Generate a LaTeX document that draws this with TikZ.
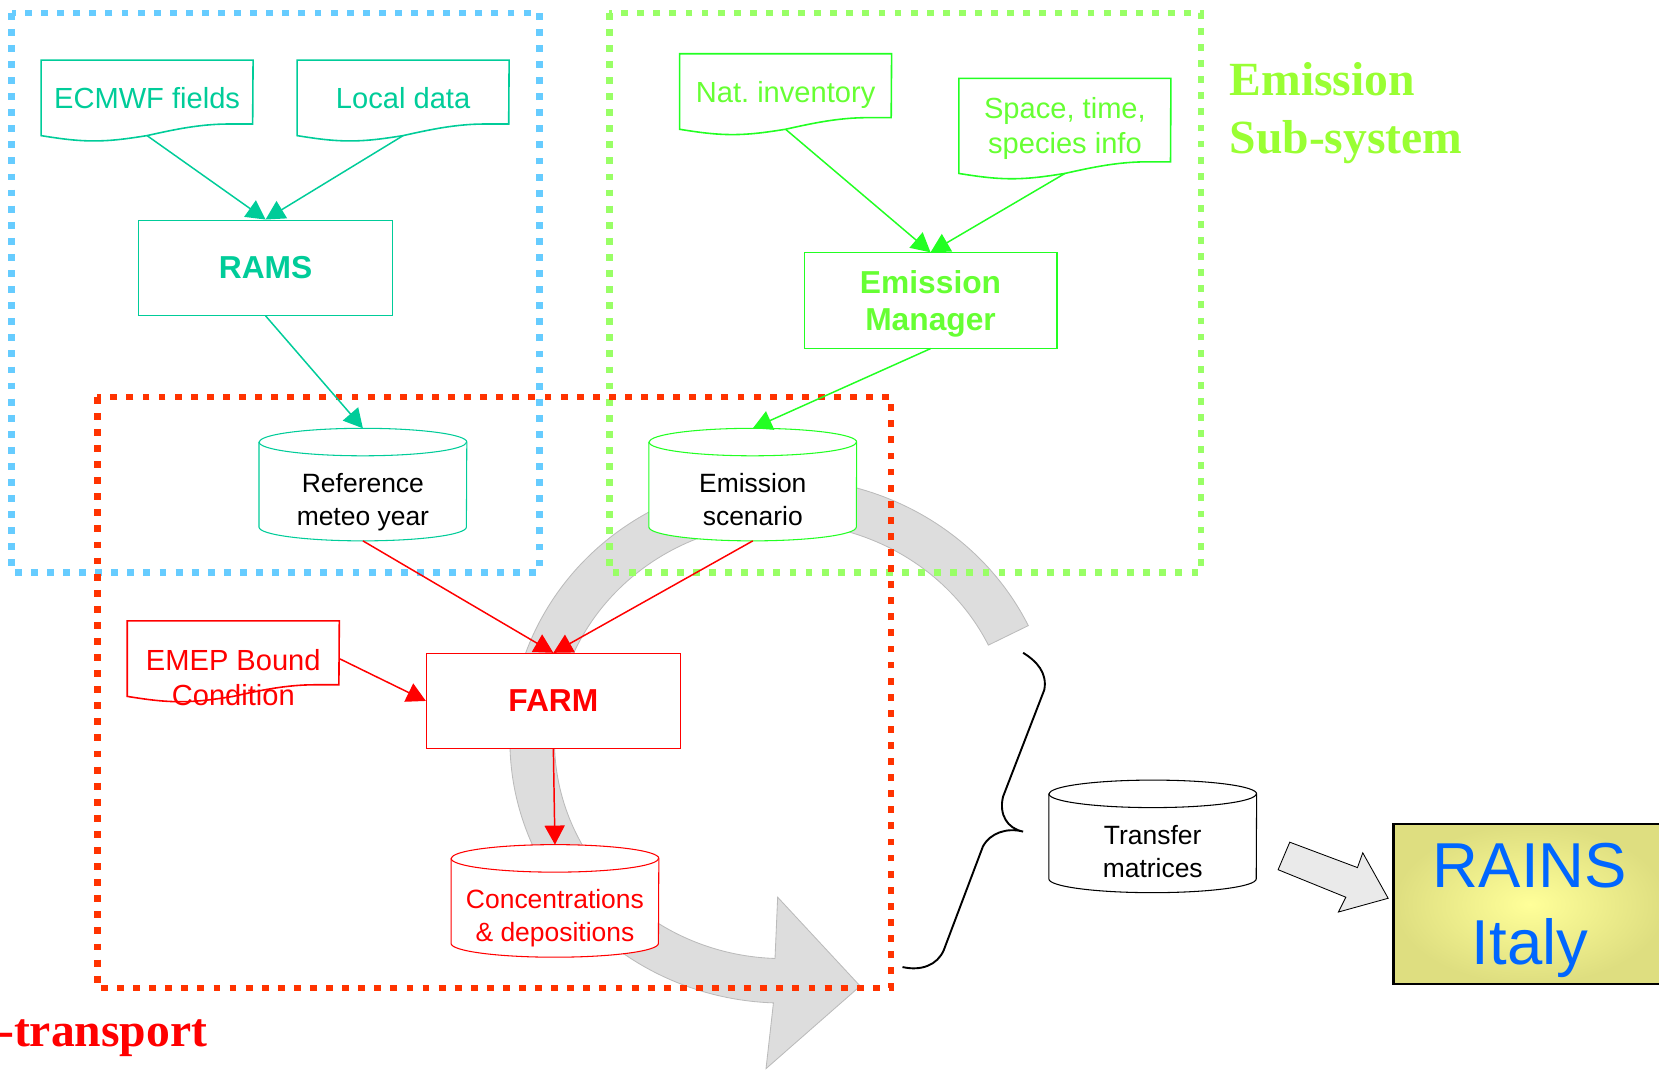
\documentclass[tikz,border=0pt]{standalone}
\usepackage{fontspec}
\setmainfont{Liberation Sans}
\newfontfamily\titlefont{Liberation Serif}
\usetikzlibrary{arrows.meta,calc}

\definecolor{meteo}{HTML}{00CC99}
\definecolor{emis}{HTML}{22FF22}
\definecolor{emistext}{HTML}{66FF33}
\definecolor{subsys}{HTML}{99FF33}
\definecolor{bluedots}{HTML}{66CCFF}
\definecolor{greendots}{HTML}{99FF66}
\definecolor{reddots}{HTML}{FF3300}
\definecolor{rainsin}{HTML}{FFFF99}
\definecolor{rainsout}{HTML}{DEDE80}
\definecolor{rainstext}{HTML}{0066FF}
\definecolor{bendfill}{HTML}{DDDDDD}
\definecolor{bendline}{HTML}{BBBBBB}
\definecolor{smallfill}{HTML}{EAEAEA}

% document outline, wavy bottom
\newcommand\docline[2]{%
  \draw[#2, line width=1.5pt] (#1.south west) sin ++(50,5) cos ++(50,-5)
    sin ++(78,-11) -- ++(22,0) -- (#1.north east) -- (#1.north west) -- cycle;}
% cylinder: name, position, outline, text colour, text
\newcommand\cylnode[5]{%
  \node[cylbox] (#1) at (#2) {};
  \draw[#3, line width=1pt, fill=white] ($(#1.north west)+(0,13)$) -- ($(#1.south west)+(0,-13)$)
    arc[start angle=180, end angle=0, x radius=98, y radius=13]
    -- ($(#1.north east)+(0,13)$)
    arc[start angle=0, end angle=-180, x radius=98, y radius=13] -- cycle;
  \draw[#3, line width=1pt] ($(#1.north west)+(0,13)$)
    arc[start angle=180, end angle=0, x radius=98, y radius=13];
  \node[cyltext, text=#4] (#1txt) at ([yshift=-14pt]#1.center) {#5};}

\begin{document}
\begin{tikzpicture}[x=1pt, y=-1pt,
  every node/.style={inner sep=0pt},
  docu/.style={minimum width=200pt, align=center, text depth=0pt, font=\fontsize{27.5}{33}\selectfont},
  proc/.style={draw, fill=white, line width=1pt, minimum width=240pt, minimum height=90pt,
    align=center, text depth=0pt, font=\fontsize{30}{35}\selectfont\bfseries},
  cylbox/.style={minimum width=196pt, minimum height=106pt},
  cyltext/.style={align=center, text depth=0pt, font=\fontsize{25}{31}\selectfont},
  link/.style={-{Triangle[length=18pt,width=19pt]}, line width=1.4pt},
  dots/.style={line width=6pt, dash pattern=on 6.5pt off 8.7pt},
  title/.style={font=\titlefont\bfseries\fontsize{45}{55}\selectfont}
]
    \useasboundingbox (0,0) rectangle (1568,1011);

    % big bent arrow behind everything
    \draw[fill=bendfill, draw=bendline, line width=0.8pt] (971.9,591.3)
      arc[start angle=-26, end angle=-268, x radius=258, y radius=248]
      -- (724,1010) -- (813,932) -- (735,848) -- (732.5,905.9)
      arc[start angle=-268, end angle=-26, x radius=216, y radius=206] -- cycle;

    \draw[bluedots, dots] (11,12) rectangle (510,541);
    \draw[greendots, dots] (576,12) rectangle (1135,541);
    \draw[reddots, dots] (92,375) rectangle (842,934);

    \node[title, text=subsys, anchor=north west, align=left] (subsys) at (1162,59) {Emission\\Sub-system};
    \node[title, text=red, anchor=base east] (chemtr) at (196,989) {-transport};

    % meteo part
    \node[docu, text=meteo, minimum height=71pt] (ecmwf) at (139,92.5) {ECMWF fields};
    \node[docu, text=meteo, minimum height=71pt] (local) at (381,92.5) {Local data};
    \docline{ecmwf}{meteo}
    \docline{local}{meteo}
    \node[proc, draw=meteo, text=meteo] (rams) at (251,253) {RAMS};
    \cylnode{refmet}{343,458}{meteo}{black}{Reference\\meteo year}

    % emission part
    \node[docu, text=emistext, minimum height=71pt] (natinv) at (742.5,86.5) {Nat.\ inventory};
    \node[docu, text=emistext, minimum height=89.5pt] (spinfo) at (1006.5,119) {Space, time,\\species info};
    \docline{natinv}{emis}
    \docline{spinfo}{emis}
    \node[proc, draw=emis, text=emistext, minimum width=239pt] (emman) at (879.5,284) {Emission\\Manager};
    \cylnode{emscen}{711.5,458}{emis}{black}{Emission\\scenario}

    % transport part
    \node[docu, minimum height=71pt] (emep) at (220.5,622.5) {};
    \docline{emep}{red}
    \node[docu, text=red] (emeptxt) at ([yshift=-18pt]emep.center) {EMEP Bound\\Condition};
    \node[proc, draw=red, text=red] (farm) at (523,662.5) {FARM};
    \cylnode{conc}{524.5,851.5}{red}{red}{Concentrations\\\& depositions}

    \cylnode{transf}{1089.5,790.5}{black}{black}{Transfer\\matrices}
    \node[draw=black, line width=2pt, inner color=rainsin, outer color=rainsout,
      minimum width=258pt, minimum height=151pt, text=rainstext, align=center, text depth=0pt,
      font=\fontsize{60}{73}\selectfont] (rains) at (1446,854.5) {RAINS\\Italy};

    \draw[link, meteo] (ecmwf.south) -- (rams.north);
    \draw[link, meteo] (local.south) -- (rams.north);
    \draw[link, meteo] (rams.south) -- (refmet.north);
    \draw[link, emis] (natinv.south) -- (emman.north);
    \draw[link, emis] (spinfo.south) -- (emman.north);
    \draw[link, emis] (emman.south) -- (emscen.north);
    \draw[link, red] (refmet.south) -- (farm.north);
    \draw[link, red] (emscen.south) -- (farm.north);
    \draw[link, red] (emep.east) -- (farm.west);
    \draw[link, red] (farm.south) -- (conc.north);

    % brace and small arrow
    \draw[line width=1.8pt] (967,617) .. controls (980,625) and (990,636) .. (987,652)
      -- (948,753) .. controls (944,770) and (952,783) .. (967,786)
      .. controls (952,782) and (936,787) .. (929,800)
      -- (892,898) .. controls (886,912) and (871,918) .. (853,914);
    \draw[fill=smallfill, line width=0.8pt] (1219,796) -- (1283,820) -- (1288,806) -- (1312,849)
      -- (1265,862) -- (1272,848) -- (1208,822) -- cycle;
\end{tikzpicture}
\end{document}
